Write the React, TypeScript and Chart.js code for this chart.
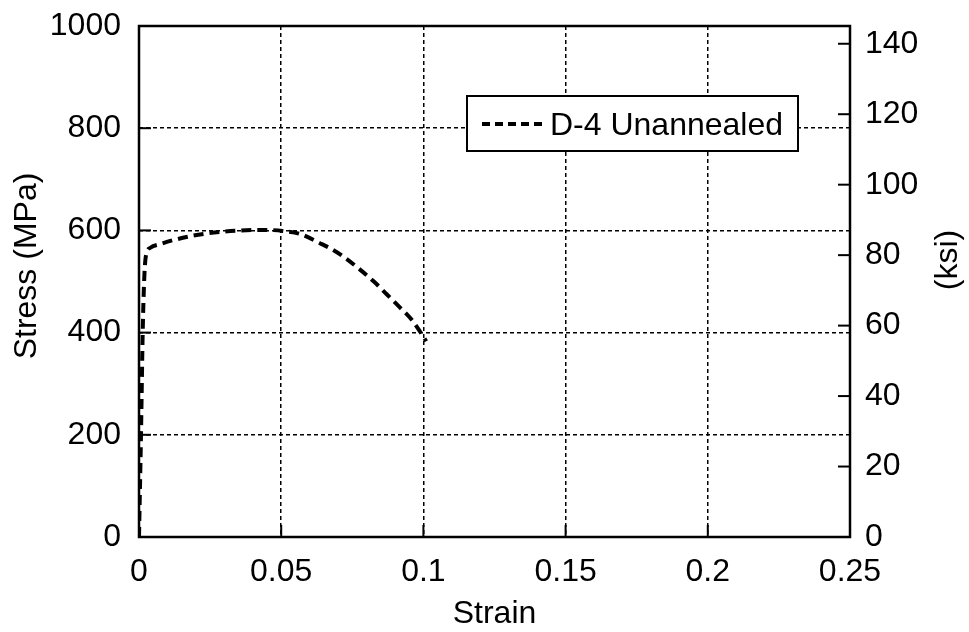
import React, { useEffect, useRef } from "react";
import { Chart, registerables } from "chart.js";

Chart.register(...registerables);

const strain = [
  0, 0.0007, 0.0013, 0.0018, 0.0022, 0.0028, 0.004, 0.0074, 0.0121, 0.0203,
  0.0285, 0.036, 0.044, 0.0505, 0.0566, 0.0636, 0.0672, 0.0718, 0.0771, 0.0824,
  0.0871, 0.0918, 0.0959, 0.1, 0.101,
];
const stress = [
  0, 200, 400, 500, 540, 558, 566, 573, 581, 591, 597, 600, 601, 599, 593, 575,
  565, 549, 526, 501, 475, 449, 425, 392, 383,
];
const xTickValues = [0, 0.05, 0.1, 0.15, 0.2, 0.25];
const xTickLabels = ["0", "0.05", "0.1", "0.15", "0.2", "0.25"];
const yTickValues = [0, 200, 400, 600, 800, 1000];
const yTickLabels = ["0", "200", "400", "600", "800", "1000"];
const ksiTickValues = [0, 20, 40, 60, 80, 100, 120, 140];
const ksiTickLabels = ["0", "20", "40", "60", "80", "100", "120", "140"];
const seriesLabel = "D-4 Unannealed";
const xTitle = "Strain";
const yTitle = "Stress (MPa)";
const y2Title = "(ksi)";
const MPA_PER_KSI = 6.894757;

const FONT_FAMILY = "'Liberation Sans', Arial, Helvetica, sans-serif";
const FS = 32;

const framePlugin = {
  id: "frameAndExtras",
  afterDraw(chart: any) {
    const { ctx, chartArea } = chart;
    const { left, right, top, bottom } = chartArea;
    ctx.save();
    ctx.setLineDash([]);
    ctx.strokeStyle = "#000";
    ctx.lineWidth = 2.5;
    ctx.strokeRect(left, top, right - left, bottom - top);

    ctx.lineWidth = 2;
    const tickLen = 12;
    const ys = chart.scales.y;
    ys.ticks.forEach((t: any) => {
      const py = ys.getPixelForValue(t.value);
      ctx.beginPath();
      ctx.moveTo(left, py);
      ctx.lineTo(left + tickLen, py);
      ctx.stroke();
    });
    const xs = chart.scales.x;
    xs.ticks.forEach((t: any) => {
      const px = xs.getPixelForValue(t.value);
      ctx.beginPath();
      ctx.moveTo(px, bottom);
      ctx.lineTo(px, bottom - tickLen);
      ctx.stroke();
    });
    const y2 = chart.scales.y2;
    y2.ticks.forEach((t: any) => {
      const py = y2.getPixelForValue(t.value);
      ctx.beginPath();
      ctx.moveTo(right, py);
      ctx.lineTo(right - tickLen, py);
      ctx.stroke();
    });

    const lx = 467, ly = 96, lw = 331, lh = 55;
    ctx.fillStyle = "#fff";
    ctx.fillRect(lx, ly, lw, lh);
    ctx.lineWidth = 2;
    ctx.strokeRect(lx, ly, lw, lh);
    ctx.lineWidth = 4;
    ctx.setLineDash([8, 5]);
    ctx.beginPath();
    ctx.moveTo(482, 124);
    ctx.lineTo(547, 124);
    ctx.stroke();
    ctx.setLineDash([]);
    ctx.fillStyle = "#000";
    ctx.font = `${FS}px ${FONT_FAMILY}`;
    ctx.textAlign = "left";
    ctx.textBaseline = "alphabetic";
    ctx.fillText(seriesLabel, 550, 135);

    ctx.textAlign = "center";
    ctx.fillText(xTitle, (left + right) / 2, 623);
    ctx.save();
    ctx.translate(27, 266);
    ctx.rotate(-Math.PI / 2);
    ctx.textBaseline = "middle";
    ctx.fillText(yTitle, 0, 0);
    ctx.restore();
    ctx.save();
    ctx.translate(948, 260);
    ctx.rotate(-Math.PI / 2);
    ctx.textBaseline = "middle";
    ctx.fillText(y2Title, 0, 0);
    ctx.restore();
    ctx.restore();
  },
};

const noPadV = (w: number) => (s: any) => {
  s.width = w;
  s.paddingTop = 0;
  s.paddingBottom = 0;
};

export default function App() {
  const ref = useRef<HTMLCanvasElement>(null);
  useEffect(() => {
    document.body.style.margin = "0";
    const canvas = ref.current!;
    const font = { family: FONT_FAMILY, size: FS };
    const chart = new Chart(canvas, {
      type: "line",
      data: {
        datasets: [
          {
            label: seriesLabel,
            data: strain.map((x, i) => ({ x, y: stress[i] })),
            borderColor: "#000",
            borderWidth: 4,
            borderDash: [10, 6],
            pointRadius: 0,
            fill: false,
            cubicInterpolationMode: "monotone",
            xAxisID: "x",
            yAxisID: "y",
          },
        ],
      },
      options: {
        responsive: false,
        animation: false,
        layout: { padding: { top: 26, left: 0, right: 0, bottom: 0 } },
        plugins: { legend: { display: false }, tooltip: { enabled: false } },
        scales: {
          x: {
            type: "linear",
            position: "bottom",
            min: 0,
            max: 0.25,
            afterBuildTicks: (s: any) => {
              s.ticks = xTickValues.map((value) => ({ value }));
            },
            ticks: {
              font,
              color: "#000",
              padding: 16,
              maxRotation: 0,
              autoSkip: false,
              callback: (_v: any, i: number) => xTickLabels[i],
            },
            grid: { color: "#000", lineWidth: 1.5, drawTicks: false },
            border: { display: false, dash: [4, 3] },
            afterFit: (s: any) => {
              s.height = 95;
              s.paddingLeft = 0;
              s.paddingRight = 0;
            },
          },
          y: {
            type: "linear",
            position: "left",
            min: 0,
            max: 1000,
            afterBuildTicks: (s: any) => {
              s.ticks = yTickValues.map((value) => ({ value }));
            },
            ticks: {
              font,
              color: "#000",
              padding: 18,
              autoSkip: false,
              callback: (_v: any, i: number) => yTickLabels[i],
            },
            grid: { color: "#000", lineWidth: 1.5, drawTicks: false },
            border: { display: false, dash: [4, 3] },
            afterFit: noPadV(139),
          },
          y2: {
            type: "linear",
            position: "right",
            min: 0,
            max: 1000 / MPA_PER_KSI,
            afterBuildTicks: (s: any) => {
              s.ticks = ksiTickValues.map((value) => ({ value }));
            },
            ticks: {
              font,
              color: "#000",
              padding: 15,
              autoSkip: false,
              callback: (_v: any, i: number) => ksiTickLabels[i],
            },
            grid: { drawOnChartArea: false, drawTicks: false },
            border: { display: false },
            afterFit: noPadV(119),
          },
        },
      },
      plugins: [framePlugin],
    } as any);
    return () => chart.destroy();
  }, []);
  return (
    <div style={{ width: 969, height: 632, background: "#fff" }}>
      <canvas ref={ref} width={969} height={632} style={{ display: "block" }} />
    </div>
  );
}
